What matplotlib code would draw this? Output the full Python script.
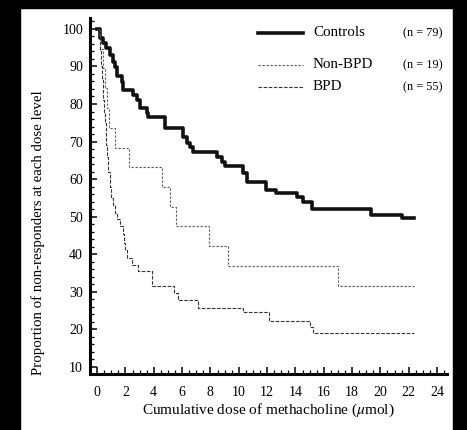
import matplotlib
matplotlib.use("Agg")
import matplotlib.pyplot as plt
from matplotlib.ticker import MultipleLocator
from matplotlib.patches import Rectangle

plt.rcParams['font.family'] = ['Liberation Serif', 'DejaVu Serif']
plt.rcParams['mathtext.fontset'] = 'stix'

# Kaplan-Meier style step data (dose in umol, % non-responders)
controls_x = [0, 0.2, 0.42, 0.64, 0.92, 1.13, 1.27, 1.41, 1.76, 1.83, 2.54, 2.82, 3.03,
              3.53, 3.6, 4.8, 6.07, 6.35, 6.56, 6.77, 8.47, 8.82, 9.03, 10.3, 10.6,
              11.9, 12.6, 14.1, 14.5, 15.2, 19.3, 21.5, 22.4]
controls_y = [100, 97.6, 96.3, 94.9, 93.0, 91.2, 89.9, 87.5, 85.9, 83.8, 82.4, 81.0, 79.0,
              77.7, 76.6, 73.6, 71.3, 69.7, 68.6, 67.3, 66.0, 64.6, 63.6, 61.7, 59.3,
              57.2, 56.4, 55.3, 54.0, 52.1, 50.5, 49.7, 49.7]

nonbpd_x = [0, 0.2, 0.4, 0.55, 0.7, 0.85, 1.27, 2.27, 4.6, 5.15, 5.6, 7.9, 9.25, 17.0, 22.4]
nonbpd_y = [100, 94.7, 89.5, 84.2, 78.9, 73.7, 68.4, 63.2, 57.9, 52.6, 47.4, 42.1, 36.8,
            31.6, 31.6]

bpd_x = [0, 0.1, 0.2, 0.3, 0.35, 0.4, 0.45, 0.5, 0.55, 0.6, 0.65, 0.7, 0.8, 0.9, 1.0,
         1.1, 1.25, 1.4, 1.62, 1.8, 1.9, 2.0, 2.1, 2.45, 2.9, 3.9, 5.45, 5.7, 7.15,
         10.3, 12.1, 15.0, 15.25, 22.4]
bpd_y = [100, 98, 94, 90, 87, 84, 81, 78, 75, 72, 69, 66, 62, 58, 55,
         53, 51, 49.5, 47.5, 45.5, 43, 41, 39, 37.2, 35.4, 31.6, 29.8, 27.9, 25.8,
         24.5, 22.3, 20.7, 18.9, 18.9]

group_names = ['Controls', 'Non-BPD', 'BPD']
group_n = ['(n = 79)', '(n = 19)', '(n = 55)']

W, H = 467, 430
fig = plt.figure(figsize=(W / 100, H / 100), dpi=100)
ax = fig.add_axes([90 / W, 1 - 374 / H, (447 - 90) / W, (374 - 18) / H])

ax.step(controls_x, controls_y, where='post', color='#111111', lw=2.6)
ax.step(nonbpd_x, nonbpd_y, where='post', color='#555555', lw=0.8, dashes=(2, 1.6))
ax.step(bpd_x, bpd_y, where='post', color='#333333', lw=0.8, dashes=(3.2, 1.4))

ax.set_xlim(-0.5, 24.7)
ax.set_ylim(8.1, 102.9)
ax.xaxis.set_major_locator(MultipleLocator(2))
ax.xaxis.set_minor_locator(MultipleLocator(0.5))
ax.yaxis.set_major_locator(MultipleLocator(10))
ax.yaxis.set_minor_locator(MultipleLocator(2))
ax.set_yticks(range(10, 101, 10))

for s in ['top', 'right']:
    ax.spines[s].set_visible(False)
for s in ['left', 'bottom']:
    ax.spines[s].set_linewidth(2.2)

ax.tick_params(which='major', direction='in', length=5, width=1.1, labelsize=10, pad=5)
ax.tick_params(which='minor', direction='in', length=2.8, width=0.9)
ax.tick_params(axis='x', which='major', pad=9)

ax.set_xlabel(r'Cumulative dose of methacholine ($\mu$mol)', fontsize=11)
ax.set_ylabel('Proportion of non-responders at each dose level', fontsize=10.7)
ax.xaxis.set_label_coords(0.5, -0.078)
ax.yaxis.set_label_coords(-0.125, 0.396)

# legend drawn by hand
rows_y = [33, 65, 87]
styles = [dict(color='#111111', lw=2.6),
          dict(color='#555555', lw=0.8, dashes=(2, 1.6)),
          dict(color='#333333', lw=0.8, dashes=(3.2, 1.4))]
for yy, name, nn, st in zip(rows_y, group_names, group_n, styles):
    fy = 1 - yy / H
    fig.add_artist(plt.Line2D([258 / W, 303 / W], [fy, fy], **st))
    fig.text(313 / W, fy, name, fontsize=10.8, va='center', ha='left')
    fig.text(403 / W, fy, nn, fontsize=8.8, va='center', ha='left')

# dark frame strips around the picture
for x0, y0, w, h in [(0, 0, 20, H), (0, 0, W, 8), (453, 0, W - 453, H)]:
    fig.add_artist(Rectangle((x0 / W, 1 - (y0 + h) / H), w / W, h / H,
                             transform=fig.transFigure, color='black', zorder=10))

fig.savefig('out.png', dpi=100)
